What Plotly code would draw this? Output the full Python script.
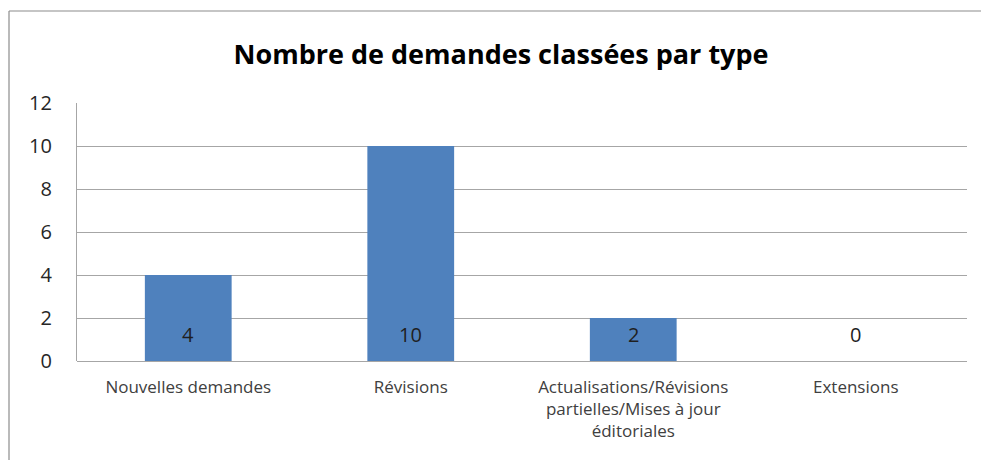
import plotly.graph_objects as go

categories = [
    "Nouvelles demandes",
    "Révisions",
    "Actualisations/Révisions<br>partielles/Mises à jour<br>éditoriales",
    "Extensions",
]
values = [4, 10, 2, 0]
y_ticks = [0, 2, 4, 6, 8, 10, 12]
title_text = "Nombre de demandes classées par type"

BAR = "#4F81BD"
GRID = "#A6A6A6"
FONT = "'Open Sans', Lato, sans-serif"

fig = go.Figure()
fig.add_trace(go.Bar(
    x=categories, y=values, marker=dict(color=BAR, line=dict(width=0)),
    width=0.39, hoverinfo="skip",
))

for c, v in zip(categories, values):
    fig.add_annotation(x=c, y=1.25, text=str(v), showarrow=False,
                       xref="x", yref="y", yanchor="middle",
                       font=dict(family=FONT, size=20, color="#1F1F1F"))

W, H = 981, 460
L, R, T, B = 77, 14, 103, 99
pw, ph = W - L - R, H - T - B
bx = (9 - L) / pw
by = (H - B - 11) / ph
fig.add_shape(type="line", xref="paper", yref="paper", x0=bx, x1=bx, y0=-0.5, y1=by,
              line=dict(color="#8C8C8C", width=1.2))
fig.add_shape(type="line", xref="paper", yref="paper", x0=bx, x1=1.2, y0=by, y1=by,
              line=dict(color="#8C8C8C", width=1.2))

fig.update_layout(
    width=W, height=H,
    margin=dict(l=L, r=R, t=T, b=B),
    paper_bgcolor="white", plot_bgcolor="white",
    showlegend=False,
    title=dict(text="<b>" + title_text + "</b>", x=501 / W, xref="container", xanchor="center",
               y=1 - 55 / H, yref="container", yanchor="middle",
               font=dict(family=FONT, size=27, color="#000000")),
    xaxis=dict(showgrid=False, showline=False, ticks="", zeroline=False,
               ticklabelstandoff=14,
               tickfont=dict(family=FONT, size=17, color="#404040")),
    yaxis=dict(range=[0, 12], tickvals=y_ticks, showgrid=True, gridcolor=GRID, gridwidth=1.3,
               zeroline=True, zerolinecolor=GRID, zerolinewidth=1.3,
               showline=True, linecolor=GRID, linewidth=1.3,
               ticks="", ticklabelstandoff=20,
               tickfont=dict(family=FONT, size=20, color="#262626")),
)

fig.write_html("out.html", config={"displayModeBar": False})

with open("out.html", encoding="utf-8") as f:
    html = f.read()
html = html.replace("<body>", "<body style=\"margin:0;padding:0;\">", 1)
with open("out.html", "w", encoding="utf-8") as f:
    f.write(html)
